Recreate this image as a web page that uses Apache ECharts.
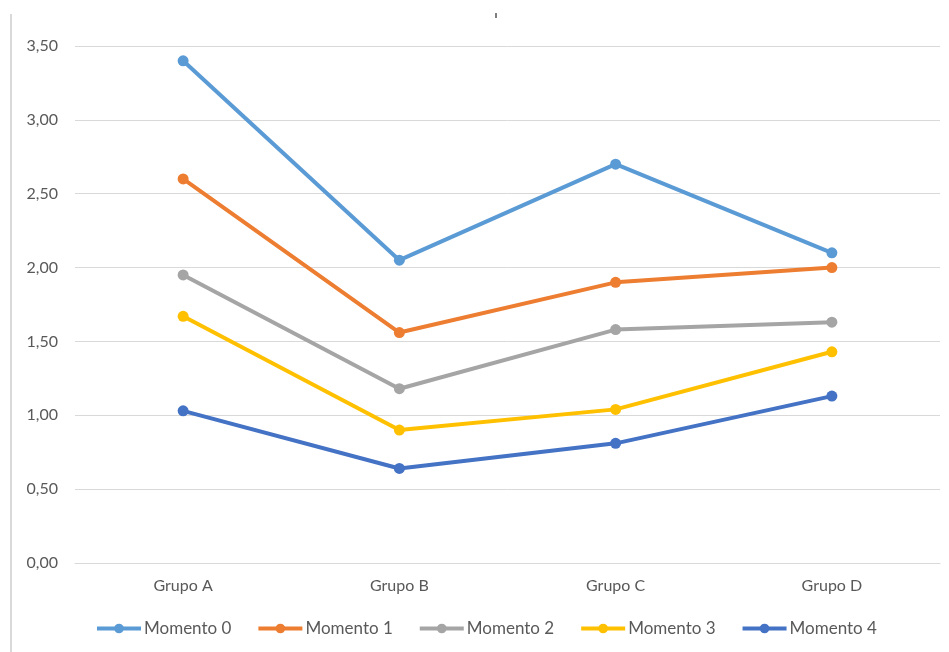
<!DOCTYPE html>
<html lang="es">
<head>
<meta charset="UTF-8">
<title>Momentos por grupo</title>
<style>
    html, body { margin: 0; padding: 0; background: #fff; }
    #chart { width: 949px; height: 652px; }
</style>
</head>
<body>
<div id="chart"></div>
<script src="https://cdn.jsdelivr.net/npm/echarts@6/dist/echarts.min.js"></script>
<script>
    // datos
    var grupos = ['Grupo A', 'Grupo B', 'Grupo C', 'Grupo D'];
    var momento0 = [3.40, 2.05, 2.70, 2.10];
    var momento1 = [2.60, 1.56, 1.90, 2.00];
    var momento2 = [1.95, 1.18, 1.58, 1.63];
    var momento3 = [1.67, 0.90, 1.04, 1.43];
    var momento4 = [1.03, 0.64, 0.81, 1.13];
    var nombres = ['Momento 0', 'Momento 1', 'Momento 2', 'Momento 3', 'Momento 4'];
    var colores = ['#5B9BD5', '#ED7D31', '#A5A5A5', '#FFC000', '#4472C4'];

    var valores = [momento0, momento1, momento2, momento3, momento4];
    var series = [];
    for (var i = 0; i < valores.length; i++) {
        series.push({
            name: nombres[i],
            type: 'line',
            data: valores[i],
            symbol: 'circle',
            symbolSize: 11,
            lineStyle: { width: 4, color: colores[i] },
            itemStyle: { color: colores[i] }
        });
    }

    var myChart = echarts.init(document.getElementById('chart'));
    var option = {
        animation: false,
        textStyle: { fontFamily: 'Lato, "Open Sans", sans-serif' },
        color: colores,
        grid: { left: 75, right: 9, top: 46, bottom: 89 },
        legend: {
            bottom: 10,
            left: 90,
            itemWidth: 44,
            itemHeight: 12,
            itemGap: 25,
            lineStyle: { width: 4 },
            textStyle: { color: '#595959', fontSize: 17, padding: [0, 0, 0, -2] },
            data: nombres
        },
        xAxis: {
            type: 'category',
            data: grupos,
            boundaryGap: true,
            axisLine: { lineStyle: { color: '#D9D9D9' } },
            axisTick: { show: false },
            axisLabel: { color: '#595959', fontSize: 16, margin: 15 }
        },
        yAxis: {
            type: 'value',
            min: 0,
            max: 3.5,
            interval: 0.5,
            axisLine: { show: false },
            axisTick: { show: false },
            splitLine: { lineStyle: { color: '#D9D9D9' } },
            axisLabel: {
                color: '#595959',
                fontSize: 16,
                margin: 17,
                formatter: function (v) { return v.toFixed(2).replace('.', ','); }
            }
        },
        graphic: [
            { type: 'line', shape: { x1: 11, y1: 14, x2: 11, y2: 652 }, style: { stroke: '#D9D9D9', lineWidth: 2 } },
            { type: 'rect', shape: { x: 495, y: 13, width: 2, height: 5 }, style: { fill: '#7F7F7F' } }
        ],
        series: series
    };
    myChart.setOption(option);
</script>
</body>
</html>
